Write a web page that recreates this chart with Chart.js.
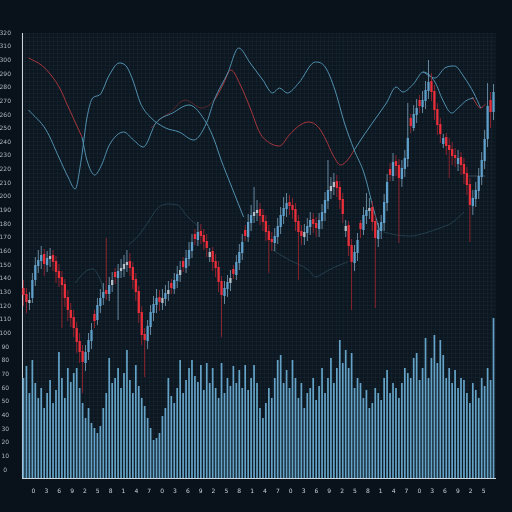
<!DOCTYPE html>
<html>
<head>
<meta charset="utf-8">
<script src="https://cdn.jsdelivr.net/npm/chart.js@4.4.1/dist/chart.umd.min.js"></script>
<style>
  html, body { margin: 0; padding: 0; background: #09111a; }
  #wrap { width: 512px; height: 512px; }
</style>
</head>
<body>
<div id="wrap"><canvas id="chart" width="512" height="512"></canvas></div>
<script>
// candles, price units run bottom (0) to top (445)
const openP = [
  190,184,175,180,198,212,217,224,213,219,
  223,217,207,201,194,181,168,161,150,137,
  127,115,126,137,164,158,172,180,188,184,
  193,206,200,207,209,213,217,211,199,187,
  166,144,137,151,165,173,181,175,179,184,
  195,189,197,203,217,210,219,227,244,238,
  247,243,237,221,227,217,211,197,182,189,
  195,209,203,215,225,248,241,255,262,265,
  269,263,257,247,239,235,241,251,262,269,
  276,273,269,257,247,241,245,251,259,255,
  249,257,265,277,287,291,297,291,279,247,
  253,233,215,225,255,248,262,267,271,257,
  239,247,255,275,309,302,317,313,299,309,
  319,360,350,363,378,371,377,387,397,387,
  369,354,334,341,333,329,323,314,321,314,
  305,294,272,279,287,301,317,339,378,366
];
const highP = [
  198,190,186,205,221,228,232,229,227,230,
  228,222,214,207,199,188,175,168,156,145,
  133,133,145,155,168,180,189,195,240,201,
  206,210,214,219,223,228,225,216,205,192,
  172,150,158,173,182,189,188,189,193,197,
  199,205,212,217,221,228,236,244,249,256,
  254,249,244,230,231,224,217,202,197,203,
  208,213,223,234,244,253,264,273,291,278,
  275,269,263,253,246,250,260,271,281,285,
  283,280,275,263,253,254,260,266,265,261,
  265,274,286,318,301,305,303,297,285,258,
  257,239,233,245,258,271,285,280,277,263,
  255,263,284,304,315,325,323,319,318,328,
  375,364,373,379,383,387,397,418,405,393,
  375,360,344,345,340,336,330,328,326,320,
  311,300,288,296,310,326,348,395,386,394
];
const lowP = [
  172,165,168,175,192,205,209,202,206,211,
  207,195,191,150,171,157,151,141,125,115,
  85,107,118,129,150,153,165,173,178,177,
  186,194,158,200,201,206,202,189,177,155,
  133,101,129,143,157,165,167,168,172,177,
  184,184,190,196,206,205,212,220,233,232,
  234,228,221,216,207,201,186,141,174,181,
  187,199,198,208,218,237,236,247,255,257,
  253,247,237,205,227,227,234,244,254,261,
  263,259,247,198,233,233,237,243,245,241,
  241,249,257,269,279,283,281,269,255,241,
  222,168,207,217,240,243,254,259,247,170,
  231,239,247,267,297,297,302,235,291,301,
  311,345,347,355,365,365,369,379,377,358,
  343,335,330,323,300,313,311,307,303,294,
  283,236,263,271,279,293,309,331,350,358
];
const closeP = [
  183,176,178,198,213,218,223,214,220,222,
  216,206,200,193,180,168,160,150,136,126,
  116,126,138,148,157,173,180,186,184,193,
  198,201,207,210,214,216,210,198,186,165,
  143,138,152,166,174,180,176,180,185,188,
  190,198,204,208,211,220,228,236,239,246,
  242,236,230,226,216,210,196,183,190,196,
  200,204,216,226,236,242,256,263,266,268,
  262,256,246,238,236,242,252,263,270,275,
  272,268,256,246,242,246,252,258,254,250,
  258,266,278,288,292,296,290,278,264,252,
  232,216,226,238,249,263,268,270,256,240,
  248,256,276,296,303,316,312,300,310,320,
  340,352,364,370,372,378,388,396,386,368,
  353,344,340,332,328,322,320,320,313,304,
  293,273,280,288,302,318,339,372,366,386
];
const volume = [
  100,112,85,118,95,80,90,70,85,98,
  75,88,126,100,80,110,96,105,110,90,
  75,60,70,55,50,45,52,70,85,120,
  95,100,110,90,105,128,98,85,113,92,
  80,72,60,50,38,40,45,62,70,100,
  82,75,90,118,85,98,110,118,102,96,
  113,88,115,95,110,90,80,115,85,100,
  92,112,95,108,90,113,88,100,113,95,
  70,60,75,90,80,100,118,123,95,108,
  90,118,100,80,95,70,85,90,100,78,
  92,110,85,100,120,95,110,138,115,128,
  110,125,90,100,95,80,88,70,75,90,
  85,78,100,108,85,95,90,80,95,110,
  105,100,120,125,98,110,140,100,120,143,
  115,138,123,100,110,95,108,90,100,98,
  85,75,95,88,80,100,92,110,98,160
];

// indicator lines: [candle index, price]
const lineBlueA = [[-0.5,368],[5.6,348],[10,321],[13.4,300],[15.7,289],[17.8,318],[19.8,360],[21.8,380],[24.2,383],[27.6,403],[31,415],[33.7,411],[36,396],[38.4,375],[41.8,361],[47.2,350],[51.9,346],[57,338],[61.4,355],[64.1,378],[68.8,405],[72.6,430],[76.6,415],[81,398],[84.4,385],[86.8,390],[89.5,385],[93.5,395],[99.3,416],[102.7,411],[106.1,388],[109.4,355],[112.8,328],[116.2,305],[119.6,268],[121.6,248]];
const lineRedA = [[-0.5,420],[3.9,413],[7.3,403],[10.7,388],[13,373],[15.7,356],[18.1,341]];
const lineBlueB = [[18.1,341],[19.8,318],[22.5,303],[24.9,313],[27.6,333],[32.6,346],[36,338],[39.4,331],[43.8,355],[49.6,365],[55.3,373],[61.4,355],[64.1,338],[66.5,318],[69.9,293],[74.3,261]];
const lineRedB = [[42.1,350],[46.2,361],[48.5,365],[54,378],[59.7,370],[64.1,378],[67.1,393],[69.9,408],[73.2,393],[76.6,370],[80,345],[83.4,335],[86.8,332],[90.2,343],[93.5,352],[96.9,356],[100.3,351],[103,338],[105.4,323],[108.1,313],[110.5,318],[112.8,328]];
const lineBlueC = [[112.8,328],[116.2,343],[120.6,361],[124,375],[127.4,391],[129.7,386],[133.4,394],[136.8,406],[140.9,396],[143.6,378],[146.7,365],[149.3,371],[152.1,378],[154.4,380]];
const lineBlueD = [[136.8,406],[140.9,400],[144.3,410],[147.7,412],[151,401],[154.4,385],[156.8,370]];
const lineRedC = [[153.8,381],[156.8,370],[158.5,374]];
const bandA = [[15.7,195],[19.1,206],[21.8,209],[24.2,200],[25.9,185]];
const bandB = [[34.3,233],[37.7,242],[41.1,256],[44.5,270],[47.9,274],[51.3,273],[54.6,262],[58,253]];
const bandC = [[84.4,228],[90.2,218],[96.9,208],[99.3,201],[102.7,206],[106.1,211],[110.5,216]];
const bandD = [[123,246],[127.4,243],[132.4,242],[137.5,245],[142.6,250],[146.7,255],[151,266]];
const lastPrice = [[152.1,302],[158.5,302]];

const yTickLabels = ['0','10','20','30','40','50','60','70','80','90','100','110','120','130','140','150','160',
  '170','180','190','200','210','220','230','240','250','260','270','280','290','300','310','320'];
const xTickLabels = ['0','3','6','9','2','5','8','1','4','7','0','3','6','9','2','5','8','1',
  '4','7','0','3','6','9','2','5','8','1','4','7','0','3','6','9','2','5'];

const categories = closeP.map((_, i) => 'C' + (i + 1));
const isUp = closeP.map((c, i) => c >= openP[i]);
const bodyColors = isUp.map((up, i) => up ? (closeP[i] - openP[i] < 6 ? '#b3bec7' : '#5f9fca') : '#ea2f3b');
const wickColors = isUp.map(up => up ? 'rgba(130,170,198,0.85)' : '#9a2530');

const pts = arr => arr.map(([x, y]) => ({ x, y }));
const lineDs = (data, color, width, order) => ({
  type: 'line', data: pts(data), xAxisID: 'x2', yAxisID: 'y',
  borderColor: color, borderWidth: width, pointRadius: 0,
  cubicInterpolationMode: 'monotone', fill: false, order
});

const bg = {
  id: 'bg',
  beforeDraw(chart) {
    const { ctx, chartArea: a } = chart;
    ctx.save();
    ctx.fillStyle = '#09111a';
    ctx.fillRect(0, 0, chart.width, chart.height);
    ctx.fillStyle = '#0c1720';
    ctx.fillRect(a.left, a.top, a.right - a.left, a.bottom - a.top);
    ctx.restore();
  }
};

const tickFont = { family: 'DejaVu Sans', size: 6 };
const fineGrid = { color: 'rgba(80,110,130,0.09)', lineWidth: 1, drawTicks: false };

new Chart(document.getElementById('chart'), {
  type: 'bar',
  data: {
    labels: categories,
    datasets: [
      { data: openP.map((o, i) => [o, closeP[i]]), backgroundColor: bodyColors,
        barPercentage: 0.78, categoryPercentage: 1, grouped: false, order: 0 },
      { data: lowP.map((l, i) => [l, highP[i]]), backgroundColor: wickColors,
        barPercentage: 0.3, categoryPercentage: 1, grouped: false, order: 1 },
      lineDs(lineBlueA, '#5290ae', 1, 2),
      lineDs(lineRedA, '#a8363c', 1, 2),
      lineDs(lineBlueB, '#5290ae', 1, 2),
      Object.assign(lineDs(lineRedB, '#a8363c', 1, 2), {
        segment: { borderColor: c => c.p0.parsed.x < 64 ? 'rgba(120,45,50,0.7)' : '#a8363c' }
      }),
      lineDs(lineBlueC, '#5290ae', 1, 2),
      lineDs(lineBlueD, '#5290ae', 1, 2),
      lineDs(lineRedC, '#b0363c', 1, 2),
      lineDs(bandA, 'rgba(62,104,122,0.45)', 1, 3),
      lineDs(bandB, 'rgba(62,104,122,0.45)', 1, 3),
      lineDs(bandC, 'rgba(62,104,122,0.45)', 1, 3),
      lineDs(bandD, 'rgba(62,104,122,0.45)', 1, 3),
      lineDs(lastPrice, 'rgba(120,130,140,0.45)', 1, 3),
      { data: volume, yAxisID: 'yv', backgroundColor: '#64a3c7',
        barPercentage: 0.58, categoryPercentage: 1, grouped: false, order: 5 }
    ]
  },
  plugins: [bg],
  options: {
    responsive: false,
    animation: false,
    layout: { padding: { top: 33, right: 17, left: 0, bottom: 0 } },
    plugins: { legend: { display: false }, tooltip: { enabled: false } },
    scales: {
      x: { display: false },
      x2: {
        type: 'linear', position: 'bottom', min: -0.5, max: 159.5,
        grid: { display: false },
        border: { display: true, color: '#cdd6dc', width: 1 },
        afterBuildTicks: s => { s.ticks = xTickLabels.map((_, k) => ({ value: 1.2 + k * 4.475 })); },
        afterFit: s => { s.height = 34; },
        ticks: { autoSkip: false, maxRotation: 0, padding: 2, color: '#c9d1d6', font: tickFont,
          callback: (v, i) => xTickLabels[i] }
      },
      xg: {
        type: 'linear', position: 'top', min: 0, max: 118,
        grid: fineGrid, border: { display: false },
        afterBuildTicks: s => { s.ticks = Array.from({ length: 119 }, (_, k) => ({ value: k })); },
        afterFit: s => { s.height = 0; },
        ticks: { display: false }
      },
      y: {
        position: 'left', min: 0, max: 445,
        grid: { display: false },
        border: { display: true, color: '#cdd6dc', width: 1 },
        afterBuildTicks: s => { s.ticks = yTickLabels.map((_, k) => ({ value: 8 + k * 13.656 })); },
        afterFit: s => { s.width = 22; },
        ticks: { autoSkip: false, padding: 3, crossAlign: 'center', color: '#aeb8c0', font: tickFont,
          callback: (v, i) => yTickLabels[i] }
      },
      yg: {
        type: 'linear', position: 'right', min: 0, max: 111,
        grid: fineGrid, border: { display: false },
        afterBuildTicks: s => { s.ticks = Array.from({ length: 112 }, (_, k) => ({ value: k })); },
        afterFit: s => { s.width = 0; },
        ticks: { display: false }
      },
      yv: { display: false, min: 0, max: 445 }
    }
  }
});
</script>
</body>
</html>
